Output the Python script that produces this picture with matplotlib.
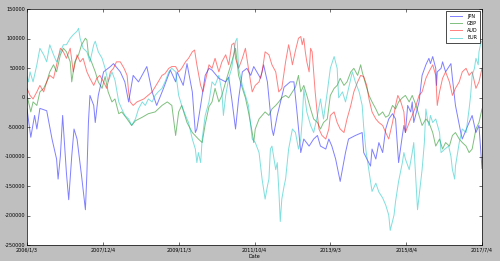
import matplotlib
matplotlib.use("Agg")
import matplotlib.pyplot as plt
from matplotlib.ticker import FuncFormatter

# weekly net positions (week index, value in thousands)
jpn_week = [0, 5, 10, 13, 17, 26, 33, 39, 41, 44, 47, 52, 55, 59, 62, 66, 72, 77, 79, 81,
            83, 88, 90, 94, 101, 110, 114, 123, 129, 134, 140, 147, 158, 165, 171, 180, 189,
            196, 198, 206, 211, 218, 222, 224, 229, 235, 240, 244, 253, 262, 266, 270, 275,
            279, 284, 290, 295, 299, 308, 312, 317, 323, 325, 330, 339, 347, 352, 356, 361,
            365, 372, 378, 383, 387, 394, 398, 402, 407, 413, 420, 424, 433, 442, 444, 453,
            455, 460, 464, 469, 473, 477, 482, 486, 490, 495, 497, 499, 502, 506, 508, 510,
            517, 521, 526, 530, 532, 535, 539, 540, 541, 546, 548, 552, 559, 561, 565, 572,
            574, 583, 587, 592, 596, 600]
jpn_net = [-19, -67, -30, -53, -18, -22, -70, -104, -138, -99, -30, -128, -173, -99, -53, -70,
           -133, -190, -128, -42, 4, -13, -42, 4, 44, 53, 58, 44, 27, -7, 38, 27, 53, 10, -13,
           16, 47, 27, 44, 21, 58, 10, -59, -53, -13, 38, 50, 47, 33, 27, 35, -2, -53, -2, 44,
           50, 38, 53, 33, 56, 27, -53, -64, -30, 18, 27, 27, -24, -93, -70, -82, -70, -64,
           -82, -87, -70, -82, -104, -142, -93, -70, -64, -59, -93, -116, -87, -104, -76, -93,
           -53, -36, -27, -36, -110, -64, -47, -59, -13, -24, -7, -42, -7, 38, 56, 67, 58, 70,
           50, 21, 44, 50, 61, 44, 58, 33, -13, -59, -70, -42, -30, -59, -47, -120]

gbp_week = [0, 2, 5, 8, 13, 17, 22, 26, 30, 35, 39, 44, 48, 52, 57, 59, 63, 68, 72, 77, 79,
            81, 85, 90, 94, 99, 103, 107, 112, 116, 121, 125, 132, 138, 143, 152, 160, 169,
            178, 185, 191, 196, 200, 204, 211, 218, 226, 231, 235, 240, 244, 248, 253, 257,
            262, 266, 270, 275, 277, 279, 284, 288, 292, 297, 299, 301, 306, 310, 314, 319,
            323, 328, 332, 336, 341, 345, 350, 354, 358, 361, 365, 369, 374, 378, 383, 387,
            391, 396, 400, 405, 409, 413, 418, 422, 427, 431, 436, 440, 442, 447, 451, 455,
            460, 464, 469, 473, 477, 482, 486, 490, 495, 499, 504, 508, 513, 517, 521, 526,
            530, 535, 539, 544, 548, 552, 557, 561, 565, 570, 574, 579, 583, 587, 592, 596, 600]
gbp_net = [4, -7, -24, -7, -13, 10, 16, 27, 44, 56, 44, 73, 84, 78, 61, 27, 61, 73, 90, 101,
           98, 73, 61, 44, 27, 16, 36, 10, -7, -2, -27, -24, -36, -47, -39, -33, -27, -24, -13,
           -7, -13, -64, -24, -13, -42, -59, -70, -76, -45, -15, -7, 16, -7, 4, 27, 44, 61, 84,
           61, 38, 16, 0, -24, -59, -76, -53, -36, -30, -24, -30, -19, -13, -7, 0, 4, 0, 10, 18,
           38, 10, 21, 4, -19, -36, -42, -53, -42, -36, 4, 16, 21, 33, 21, 27, 44, 50, 38, 56,
           44, 21, 4, -7, -19, -30, -24, -33, -30, -13, -19, -7, 0, 4, -7, 4, -13, -30, -47,
           -36, -42, -59, -82, -70, -87, -76, -82, -64, -59, -70, -76, -82, -93, -87, -53, -42,
           -19]

aud_week = [0, 4, 8, 13, 17, 22, 26, 30, 35, 39, 44, 48, 52, 57, 61, 66, 70, 74, 79, 83, 88,
            92, 96, 101, 105, 110, 114, 118, 123, 128, 132, 134, 136, 140, 145, 154, 165, 173,
            178, 182, 187, 191, 196, 200, 204, 209, 213, 218, 221, 224, 229, 232, 235, 240,
            244, 248, 253, 257, 262, 266, 270, 273, 275, 279, 284, 288, 292, 297, 301, 306,
            310, 314, 319, 323, 328, 332, 336, 341, 345, 347, 350, 354, 358, 361, 363, 365,
            367, 369, 372, 374, 376, 378, 380, 383, 385, 389, 394, 398, 400, 405, 409, 413,
            418, 422, 427, 431, 436, 440, 444, 448, 451, 455, 460, 464, 469, 473, 477, 482,
            486, 489, 493, 497, 499, 504, 508, 513, 517, 521, 526, 530, 535, 539, 541, 544,
            548, 552, 557, 561, 565, 570, 574, 579, 583, 587, 592, 596, 600]
aud_net = [16, 4, -2, 10, 21, 10, 27, 38, 33, 56, 84, 78, 67, 84, 44, 73, 61, 67, 44, 33, 21,
           33, 38, 27, 16, 44, 50, 61, 61, 50, 38, 10, -7, -13, -7, -2, 10, 27, 38, 41, 50, 53,
           53, 44, 50, 61, 67, 78, 81, 56, 21, 10, 27, 56, 50, 67, 44, 61, 73, 56, 90, 93, 67,
           50, 67, 84, 50, 10, 21, 27, 44, 78, 73, 56, 44, 10, 16, 61, 90, 78, 56, 80, 101,
           104, 90, 101, 78, 61, 44, 84, 78, 44, 10, -30, -53, -64, -70, -53, -30, -24, -42,
           -53, -59, -36, -13, 10, 27, 38, 36, 21, -2, -24, -36, -42, -47, -59, -70, -42, -13,
           4, -7, -24, -59, -42, -30, -13, 4, 10, 33, 44, 56, 38, -13, 10, 33, 44, 27, 4, 16,
           27, 44, 50, 38, 44, 16, 27, 50]

eur_week = [0, 2, 4, 8, 13, 17, 22, 26, 30, 35, 39, 44, 48, 52, 57, 61, 66, 68, 70, 74, 79,
            83, 88, 90, 94, 99, 103, 107, 112, 116, 121, 125, 129, 134, 138, 143, 147, 152,
            156, 160, 165, 169, 173, 178, 182, 187, 191, 196, 200, 204, 209, 213, 218, 222,
            224, 226, 229, 231, 235, 240, 244, 248, 253, 257, 259, 262, 266, 270, 275, 277,
            279, 284, 288, 292, 297, 301, 306, 310, 314, 317, 319, 321, 323, 328, 330, 332,
            334, 336, 339, 341, 345, 350, 354, 358, 361, 363, 365, 369, 374, 378, 383, 387,
            391, 396, 400, 405, 409, 411, 416, 420, 424, 429, 433, 438, 442, 444, 447, 451,
            455, 460, 464, 469, 473, 477, 479, 484, 486, 490, 495, 497, 499, 504, 508, 510,
            515, 517, 521, 524, 526, 528, 530, 532, 535, 539, 544, 546, 551, 556, 559, 561,
            564, 565, 570, 574, 579, 583, 585, 587, 590, 592, 595, 596, 599, 600]
eur_net = [36, 27, 44, 27, 56, 84, 73, 61, 90, 73, 61, 78, 90, 90, 101, 107, 113, 118, 101,
           84, 78, 61, 90, 96, 78, 67, 50, 27, 44, 30, -7, -19, -30, -36, -47, -36, -19, -7,
           -13, -2, -7, 4, 10, 16, 27, 44, 50, 44, 4, -13, -30, -42, -70, -87, -110, -93, -110,
           -70, -30, -7, 27, 21, 38, 10, -30, 4, 33, 50, 96, 101, 50, 21, 4, -13, -70, -76,
           -93, -138, -172, -150, -138, -87, -82, -122, -110, -155, -210, -172, -150, -138,
           -87, -53, -59, -87, -70, -36, 15, -24, -47, -59, -30, -2, -36, 10, 50, 70, 50, 0,
           10, -7, 16, 44, 27, 10, -13, -50, -90, -125, -159, -145, -160, -170, -182, -199,
           -225, -199, -176, -142, -110, -93, -104, -122, -93, -76, -190, -167, -122, -76, -19,
           -36, -47, -30, -42, -36, -59, -93, -87, -82, -99, -122, -138, -116, -76, -53, -59,
           -19, 4, 38, 50, 67, 56, 78, 96, 95]

tick_labels = ["2006/1/3", "2007/12/4", "2009/11/3", "2011/10/4",
               "2013/9/3", "2015/8/4", "2017/7/4"]
series = ["JPN", "GBP", "AUD", "EUR"]

plt.style.use("classic")
fig = plt.figure(figsize=(5, 2.61), dpi=100, facecolor="0.75")
ax = fig.add_axes([0.054, 0.061, 0.91, 0.903])

data = [(jpn_week, jpn_net), (gbp_week, gbp_net), (aud_week, aud_net), (eur_week, eur_net)]
for name, (wk, val), col in zip(series, data, ["b", "g", "r", "c"]):
    ax.plot(wk, [v * 1000 for v in val], color=col, alpha=0.5, lw=0.7, label=name)

ax.set_xlim(0, 600)
ax.set_ylim(-250000, 150000)
ax.set_xticks(range(0, 601, 100))
ax.set_xticklabels(tick_labels)
ax.set_yticks(range(-250000, 150001, 50000))
ax.yaxis.set_major_formatter(FuncFormatter(lambda v, p: "%d" % v))
ax.tick_params(labelsize=3.5, length=2, width=0.4, pad=1.5)
for s in ax.spines.values():
    s.set_linewidth(0.5)
ax.set_xlabel("Date", fontsize=3.5, labelpad=1)

leg = ax.legend(loc="upper right", fontsize=3.5, handlelength=3, borderpad=0.5,
                labelspacing=0.45, borderaxespad=0.4)
leg.get_frame().set_linewidth(0.5)

fig.savefig("out.png", dpi=100, facecolor=fig.get_facecolor())
